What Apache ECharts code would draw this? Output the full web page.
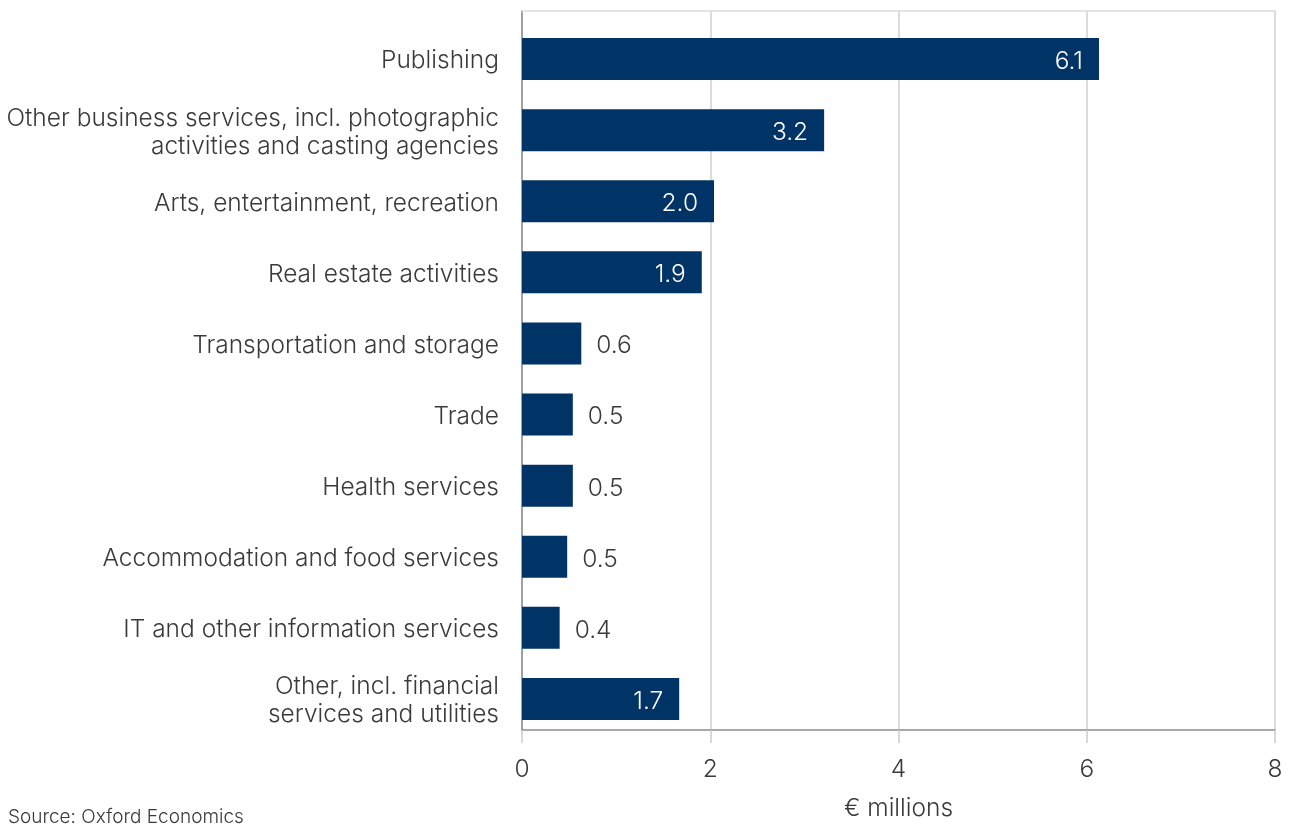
<!DOCTYPE html>
<html>
<head>
<meta charset="utf-8">
<title>Sector breakdown, € millions</title>
<script src="https://cdn.jsdelivr.net/npm/echarts@6/dist/echarts.min.js"></script>
<style>
  html, body { margin: 0; padding: 0; background: #ffffff; }
  #chart { width: 1290px; height: 826px; }
</style>
</head>
<body>
<div id="chart"></div>
<script>
// Sectors, top to bottom
const categories = [
  'Publishing',
  'Other business services, incl. photographic\nactivities and casting agencies',
  'Arts, entertainment, recreation',
  'Real estate activities',
  'Transportation and storage',
  'Trade',
  'Health services',
  'Accommodation and food services',
  'IT and other information services',
  'Other, incl. financial\nservices and utilities'
];

// € millions per sector
const values = [6.13, 3.21, 2.04, 1.91, 0.63, 0.54, 0.54, 0.48, 0.40, 1.67];

// x-axis ticks
const xTicks = [0, 2, 4, 6, 8];

const FONT = 'Inter, Lato, "Open Sans", sans-serif';
const W = 300;
const FS = 24.5;
const TEXT = '#3a3a3a';
const BAR = '#003366';
const xMin = xTicks[0];
const xMax = xTicks[xTicks.length - 1];
const xStep = xTicks[1] - xTicks[0];

// Long bars carry their value inside in white, short bars just beyond the end
const barData = values.map(v => ({
  value: v,
  label: v >= 1
    ? { position: 'insideRight', distance: 16, color: '#ffffff' }
    : { position: 'right', distance: 15, color: TEXT }
}));

const chart = echarts.init(document.getElementById('chart'), null, { renderer: 'canvas' });

chart.setOption({
  backgroundColor: '#ffffff',
  animation: false,
  textStyle: { fontFamily: FONT },
  grid: [
    // frame: gridlines, axis line, ticks
    { left: 522, right: 15, top: 11, bottom: 79 },
    // bars sit slightly inset from the frame
    { left: 522, right: 15, top: 23.5, bottom: 91.5 }
  ],
  xAxis: [
    {
      gridIndex: 0, type: 'value', min: xMin, max: xMax, interval: xStep,
      position: 'bottom',
      axisLine: { show: true, lineStyle: { color: '#8c8c8c', width: 1.5 } },
      axisTick: { show: true, length: 13, lineStyle: { color: '#cccccc', width: 1.5 } },
      splitLine: { show: true, lineStyle: { color: '#d0d0d0', width: 1.5 } },
      axisLabel: { color: TEXT, fontSize: FS, fontWeight: W, margin: 27, fontFamily: FONT },
      name: '€ millions', nameLocation: 'middle', nameGap: 66,
      nameTextStyle: { color: TEXT, fontSize: FS, fontWeight: W, fontFamily: FONT }
    },
    {
      gridIndex: 0, type: 'value', min: xMin, max: xMax, position: 'top',
      axisLine: { show: true, lineStyle: { color: '#dcdcdc', width: 1.5 } },
      axisTick: { show: false }, axisLabel: { show: false }, splitLine: { show: false }
    },
    {
      gridIndex: 1, type: 'value', min: xMin, max: xMax, show: false
    }
  ],
  yAxis: [
    {
      gridIndex: 0, type: 'value', min: 0, max: 1,
      axisLine: { show: true, lineStyle: { color: '#8c8c8c', width: 1.5 } },
      axisTick: { show: false }, axisLabel: { show: false }, splitLine: { show: false }
    },
    {
      gridIndex: 1, type: 'category', data: categories, inverse: true,
      axisLine: { show: false }, axisTick: { show: false }, splitLine: { show: false },
      axisLabel: {
        margin: 23,
        align: 'right',
        // each line is wrapped in a rich style so it can sit a little lower
        formatter: v => v.split('\n').map(s => '{t|' + s + '}').join('\n'),
        rich: {
          t: {
            color: TEXT, fontSize: FS, fontWeight: W, fontFamily: FONT,
            lineHeight: 28, padding: [4, 0, 0, 0]
          }
        }
      }
    }
  ],
  series: [
    {
      type: 'bar',
      xAxisIndex: 2,
      yAxisIndex: 1,
      data: barData,
      barWidth: 42,
      itemStyle: { color: BAR },
      label: {
        show: true,
        fontSize: FS,
        fontWeight: W,
        fontFamily: FONT,
        offset: [0, 2.5],
        formatter: p => p.value.toFixed(1)
      }
    }
  ],
  graphic: [
    {
      type: 'text', left: 8, top: 808,
      style: { text: 'Source: Oxford Economics', fill: TEXT, font: W + ' 19px ' + FONT }
    }
  ]
});
</script>
</body>
</html>
